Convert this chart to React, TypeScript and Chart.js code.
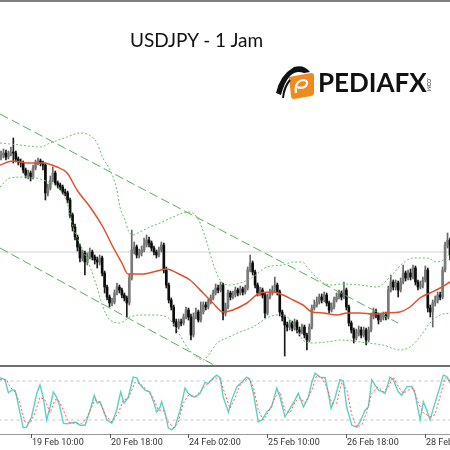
import React, { useEffect, useRef } from "react";
import { Chart, registerables } from "chart.js";

Chart.register(...registerables);

// ---------- DATA ----------
const firstOpen = 151.93;

const closes = [
  151.95, 151.97, 151.93, 151.96, 151.98, 151.97, 151.91, 151.88, 151.87, 151.80,
  151.75, 151.77, 151.73, 151.82, 151.87, 151.89, 151.87, 151.85, 151.57, 151.62,
  151.70, 151.77, 151.67, 151.65, 151.63, 151.58, 151.57, 151.50, 151.35, 151.23,
  151.13, 151.03, 150.92, 150.97, 150.88, 150.93, 150.98, 150.93, 150.90, 150.88,
  150.92, 150.77, 150.63, 150.53, 150.47, 150.48, 150.57, 150.63, 150.60, 150.55,
  150.52, 150.47, 150.72, 151.00, 151.03, 150.95, 150.97, 151.00, 151.05, 151.10,
  151.07, 151.02, 150.98, 150.95, 151.00, 151.05, 150.80, 150.65, 150.50, 150.43,
  150.28, 150.23, 150.28, 150.27, 150.33, 150.40, 150.33, 150.15, 150.33, 150.38,
  150.30, 150.38, 150.45, 150.43, 150.48, 150.52, 150.57, 150.62, 150.60, 150.65,
  150.37, 150.43, 150.57, 150.53, 150.55, 150.60, 150.57, 150.61, 150.58, 150.62,
  150.80, 150.87, 150.78, 150.65, 150.57, 150.60, 150.55, 150.37, 150.53, 150.57,
  150.60, 150.65, 150.58, 150.38, 150.33, 150.25, 150.23, 150.27, 150.22, 150.28,
  150.20, 150.18, 150.23, 150.15, 150.10, 150.23, 150.42, 150.45, 150.48, 150.53,
  150.50, 150.55, 150.47, 150.40, 150.43, 150.50, 150.53, 150.57, 150.53, 150.60,
  150.43, 150.27, 150.20, 150.12, 150.17, 150.20, 150.15, 150.20, 150.10, 150.20,
  150.33, 150.38, 150.35, 150.30, 150.33, 150.35, 150.33, 150.60, 150.68, 150.63,
  150.67, 150.60, 150.68, 150.77, 150.72, 150.77, 150.73, 150.82, 150.68, 150.63,
  150.65, 150.70, 150.80, 150.42, 150.38, 150.47, 150.50, 150.55, 150.53, 150.80,
  151.05, 151.10, 150.95,
];

const highs = [
  151.99, 152.01, 152.00, 151.99, 152.03, 152.12, 151.99, 151.93, 151.91, 151.89,
  151.82, 151.80, 151.79, 151.85, 151.90, 151.92, 151.91, 151.89, 151.87, 151.66,
  151.74, 151.83, 151.79, 151.69, 151.67, 151.65, 151.61, 151.59, 151.52, 151.37,
  151.26, 151.15, 151.06, 151.00, 150.99, 150.97, 151.02, 151.00, 150.95, 150.93,
  150.95, 150.94, 150.79, 150.65, 150.55, 150.52, 150.60, 150.67, 150.65, 150.62,
  150.57, 150.54, 150.76, 151.20, 151.08, 151.05, 151.01, 151.04, 151.12, 151.15,
  151.13, 151.09, 151.04, 151.00, 151.03, 151.08, 151.07, 150.83, 150.67, 150.52,
  150.45, 150.31, 150.31, 150.31, 150.36, 150.43, 150.42, 150.36, 150.37, 150.42,
  150.40, 150.48, 150.48, 150.48, 150.51, 150.55, 150.60, 150.66, 150.65, 150.68,
  150.67, 150.47, 150.60, 150.59, 150.59, 150.63, 150.62, 150.64, 150.63, 150.65,
  150.83, 150.95, 150.89, 150.80, 150.67, 150.63, 150.62, 150.57, 150.56, 150.61,
  150.64, 150.73, 150.67, 150.60, 150.40, 150.35, 150.28, 150.30, 150.29, 150.31,
  150.30, 150.23, 150.26, 150.25, 150.17, 150.26, 150.45, 150.50, 150.53, 150.56,
  150.56, 150.58, 150.57, 150.49, 150.47, 150.53, 150.57, 150.60, 150.59, 150.68,
  150.62, 150.45, 150.29, 150.22, 150.21, 150.24, 150.23, 150.23, 150.22, 150.23,
  150.37, 150.42, 150.41, 150.37, 150.37, 150.38, 150.38, 150.64, 150.75, 150.70,
  150.70, 150.69, 150.72, 150.85, 150.79, 150.80, 150.81, 150.85, 150.84, 150.70,
  150.69, 150.73, 150.84, 150.82, 150.45, 150.50, 150.54, 150.58, 150.58, 150.83,
  151.08, 151.17, 151.12,
];

const lows = [
  151.90, 151.92, 151.90, 151.91, 151.94, 151.87, 151.88, 151.85, 151.83, 151.77,
  151.72, 151.71, 151.69, 151.71, 151.80, 151.85, 151.84, 151.80, 151.50, 151.54,
  151.60, 151.68, 151.65, 151.62, 151.60, 151.56, 151.54, 151.47, 151.32, 151.19,
  151.10, 150.99, 150.88, 150.89, 150.75, 150.85, 150.91, 150.90, 150.86, 150.82,
  150.85, 150.74, 150.57, 150.50, 150.43, 150.44, 150.46, 150.55, 150.57, 150.52,
  150.49, 150.33, 150.45, 150.70, 150.96, 150.92, 150.92, 150.94, 150.98, 151.03,
  151.03, 150.99, 150.95, 150.92, 150.93, 150.98, 150.77, 150.62, 150.47, 150.40,
  150.24, 150.17, 150.21, 150.24, 150.25, 150.31, 150.30, 150.10, 150.13, 150.31,
  150.28, 150.28, 150.36, 150.40, 150.41, 150.46, 150.50, 150.55, 150.57, 150.58,
  150.30, 150.34, 150.41, 150.50, 150.51, 150.53, 150.54, 150.55, 150.55, 150.56,
  150.60, 150.78, 150.75, 150.62, 150.54, 150.54, 150.52, 150.32, 150.35, 150.51,
  150.55, 150.58, 150.55, 150.34, 150.29, 149.94, 150.19, 150.20, 150.19, 150.20,
  150.17, 150.14, 150.16, 150.12, 150.00, 150.08, 150.21, 150.40, 150.43, 150.46,
  150.47, 150.48, 150.44, 150.37, 150.38, 150.41, 150.48, 150.51, 150.50, 150.51,
  150.40, 150.24, 150.17, 150.07, 150.10, 150.14, 150.12, 150.13, 150.05, 150.08,
  150.18, 150.31, 150.32, 150.26, 150.28, 150.30, 150.30, 150.31, 150.58, 150.60,
  150.60, 150.53, 150.58, 150.66, 150.69, 150.70, 150.70, 150.71, 150.65, 150.60,
  150.61, 150.62, 150.68, 150.38, 150.33, 150.23, 150.44, 150.47, 150.50, 150.51,
  150.78, 151.02, 150.90,
];

// Moving average (middle line) sampled at bar positions
const maIdx = [-0.4, 4.9, 10.5, 17.0, 22.7, 26.8, 30.8, 36.1, 41.3, 45.4, 49.0, 51.5, 57.6, 63.2, 67.3, 71.3, 76.6, 81.9, 85.9, 90.0, 94.0, 99.7, 105.0, 110.3, 114.3, 118.4, 122.4, 126.1, 130.5, 136.2, 140.3, 145.5, 150.8, 156.5, 161.7, 165.8, 169.8, 173.9, 178.0, 182.0];
const maVal = [151.85, 151.89, 151.87, 151.87, 151.83, 151.77, 151.60, 151.43, 151.23, 151.03, 150.87, 150.76, 150.76, 150.79, 150.81, 150.77, 150.70, 150.57, 150.47, 150.38, 150.40, 150.47, 150.57, 150.58, 150.55, 150.50, 150.45, 150.38, 150.37, 150.35, 150.37, 150.37, 150.36, 150.37, 150.38, 150.43, 150.52, 150.57, 150.62, 150.68];

// Bollinger upper band
const bbUpIdx = [-0.4, 7.7, 15.8, 19.9, 26.8, 32.0, 34.9, 38.9, 41.3, 44.2, 47.0, 48.2, 50.3, 51.5, 53.5, 56.3, 60.4, 64.5, 69.7, 75.8, 77.8, 80.7, 83.5, 85.9, 88.8, 92.8, 98.1, 102.1, 107.8, 114.3, 118.4, 122.0, 124.4, 128.1, 133.4, 138.6, 145.5, 152.4, 157.7, 163.0, 167.0, 172.7, 176.7, 179.2, 182.0];
const bbUpVal = [152.07, 152.05, 152.03, 152.07, 152.13, 152.17, 152.16, 152.07, 151.92, 151.80, 151.60, 151.43, 151.30, 151.20, 151.15, 151.18, 151.23, 151.27, 151.33, 151.38, 151.37, 151.27, 151.07, 150.87, 150.70, 150.65, 150.68, 150.73, 150.83, 150.85, 150.88, 150.88, 150.82, 150.72, 150.65, 150.66, 150.65, 150.63, 150.73, 150.87, 150.92, 150.92, 150.88, 150.90, 150.97];

// Bollinger lower band
const bbLoIdx = [-0.4, 3.6, 10.5, 17.0, 23.9, 26.8, 29.2, 33.2, 36.1, 38.9, 41.3, 44.2, 48.2, 52.3, 56.3, 61.6, 67.3, 71.3, 75.4, 79.4, 81.9, 84.7, 87.6, 91.6, 96.9, 102.1, 107.8, 111.9, 115.9, 120.0, 122.4, 126.5, 132.1, 137.4, 142.7, 148.4, 154.8, 161.7, 165.8, 169.8, 173.9, 178.0, 182.0];
const bbLoVal = [151.63, 151.72, 151.73, 151.70, 151.60, 151.47, 151.23, 151.00, 150.83, 150.63, 150.43, 150.30, 150.27, 150.33, 150.35, 150.35, 150.33, 150.20, 150.03, 149.93, 149.90, 149.97, 150.07, 150.12, 150.18, 150.23, 150.32, 150.35, 150.33, 150.20, 150.10, 150.07, 150.08, 150.10, 150.09, 150.07, 150.05, 150.00, 150.03, 150.13, 150.27, 150.35, 150.37];

// Descending channel lines
const trendUpIdx = [-0.4, 160.9];
const trendUpVal = [152.36, 150.27];
const trendLoIdx = [-0.4, 90.0];
const trendLoVal = [151.02, 149.80];

// Horizontal price level
const levelPrice = 150.98;

// Stochastic %K
const kIdx = [-0.4, 1.6, 3.0, 4.3, 5.7, 6.4, 7.7, 9.0, 10.4, 12.4, 14.5, 15.8, 17.1, 18.5, 19.9, 21.2, 22.6, 23.9, 25.3, 26.6, 28.0, 30.0, 32.0, 34.1, 36.1, 37.8, 39.0, 40.1, 41.5, 42.9, 44.9, 46.9, 48.5, 49.9, 51.6, 53.6, 55.0, 56.4, 58.4, 60.4, 62.0, 63.1, 64.5, 65.1, 66.5, 67.8, 69.2, 70.5, 72.6, 74.6, 75.9, 77.3, 78.6, 80.7, 82.7, 84.0, 86.1, 87.4, 88.8, 90.1,
  92.2, 93.5, 95.6, 97.6, 99.6, 100.9, 102.3, 104.3, 105.7, 107.7, 109.7, 111.8, 113.1, 115.1, 117.2, 119.2, 120.5, 122.6, 124.6, 126.0, 127.3, 129.3, 131.4, 132.7, 133.8, 135.4, 137.4, 138.8, 140.1, 142.2, 144.2, 145.5, 147.6, 148.9, 150.3, 151.6, 153.0, 154.3, 155.7, 157.7, 159.0, 161.1, 162.4, 164.5, 166.5, 167.8, 169.9, 171.2, 172.6, 173.9, 175.9, 177.9, 179.3, 180.7, 182.0];
const kVal = [85, 82, 62, 66, 66, 55, 31, 8, 9, 25, 61, 74, 55, 20, 40, 63, 55, 40, 15, 14, 15, 17, 12, 12, 35, 58, 46, 48, 35, 20, 15, 35, 63, 46, 55, 86, 85, 74, 66, 63, 46, 32, 40, 48, 31, 8, 5, 9, 35, 69, 61, 57, 55, 61, 78, 76, 85, 89, 85, 55,
  32, 51, 71, 78, 86, 82, 61, 17, 20, 32, 40, 69, 55, 25, 38, 51, 61, 40, 55, 78, 92, 86, 85, 61, 38, 54, 82, 80, 40, 12, 9, 17, 35, 40, 82, 74, 66, 64, 61, 86, 82, 63, 58, 71, 72, 61, 20, 48, 35, 20, 46, 71, 89, 87, 77];

// Stochastic %D (signal)
const dIdx = [-0.4, 2.3, 3.6, 5.7, 7.7, 9.7, 11.8, 13.8, 15.8, 17.8, 19.9, 21.9, 23.2, 25.3, 27.3, 29.3, 32.7, 34.7, 38.1, 40.1, 42.2, 44.9, 47.6, 49.6, 51.6, 54.3, 56.4, 59.1, 61.7, 63.8, 65.8, 67.8, 69.9, 71.9, 73.9, 75.9, 78.6, 81.4, 84.0, 86.8, 88.8, 90.8,
  92.8, 94.9, 96.9, 100.3, 102.3, 104.3, 106.3, 108.4, 111.1, 113.1, 115.1, 117.2, 119.2, 121.2, 123.2, 126.0, 128.0, 130.0, 132.0, 134.1, 136.1, 138.1, 140.2, 142.2, 144.2, 146.2, 148.2, 150.3, 152.9, 155.0, 157.0, 159.0, 161.1, 163.1, 165.1, 167.2, 169.2, 171.2, 173.9, 175.9, 177.9, 180.0, 182.0];
const dVal = [82, 82, 71, 63, 46, 17, 15, 31, 55, 51, 31, 51, 51, 35, 17, 15, 15, 23, 51, 48, 28, 17, 31, 51, 53, 78, 76, 66, 54, 35, 35, 17, 8, 17, 46, 58, 56, 66, 77, 85, 83, 60,
  38, 54, 74, 85, 71, 35, 20, 32, 55, 63, 35, 31, 48, 54, 46, 66, 89, 85, 71, 46, 46, 78, 66, 28, 9, 12, 32, 61, 71, 63, 71, 86, 71, 61, 66, 69, 46, 31, 25, 28, 55, 85, 80];

const stochLevels = [80, 20];

const tickBars = [12, 44, 76, 108, 140, 172];
const tickLabels = ["19 Feb 10:00", "20 Feb 18:00", "24 Feb 02:00", "25 Feb 10:00", "26 Feb 18:00", "28 Feb 02:00"];

// ---------- HELPERS ----------
const X_MIN = -0.405;
const X_MAX = 182.0;

const pts = (xs: number[], ys: number[]) => xs.map((x, i) => ({ x, y: ys[i] }));

const lineDs = (data: any[], color: string, width: number, dash: number[], smooth: boolean, order = 1) => ({
  type: "line" as const,
  data,
  borderColor: color,
  borderWidth: width,
  borderDash: dash,
  pointRadius: 0,
  fill: false,
  tension: smooth ? 0.4 : 0,
  cubicInterpolationMode: smooth ? ("monotone" as const) : ("default" as const),
  order,
});

const xLabelPlugin = {
  id: "xlabels",
  afterDraw(chart: any) {
    const { ctx, chartArea } = chart;
    const xs = chart.scales.x;
    const b = chartArea.bottom;
    ctx.save();
    ctx.strokeStyle = "#9a9a9a";
    ctx.lineWidth = 1;
    ctx.beginPath();
    ctx.moveTo(0, b + 0.5);
    ctx.lineTo(chart.width, b + 0.5);
    ctx.stroke();
    ctx.strokeStyle = "#555";
    ctx.fillStyle = "#333";
    ctx.font = "9px Roboto, 'Liberation Sans', sans-serif";
    ctx.textAlign = "left";
    ctx.textBaseline = "alphabetic";
    tickBars.forEach((bar, k) => {
      const px = Math.round(xs.getPixelForValue(bar)) + 0.5;
      ctx.beginPath();
      ctx.moveTo(px, b);
      ctx.lineTo(px, b + 4);
      ctx.stroke();
      ctx.fillText(tickLabels[k], px + 0.5, b + 11);
    });
    ctx.restore();
  },
};

export default function App() {
  const mainRef = useRef<HTMLCanvasElement>(null);
  const stochRef = useRef<HTMLCanvasElement>(null);

  useEffect(() => {
    const opens = closes.map((c, i) => (i === 0 ? firstOpen : closes[i - 1]));
    const bull = closes.map((c, i) => c >= opens[i]);
    const wickData = closes.map((c, i) => ({
      x: i,
      y: [Math.min(lows[i], opens[i], c), Math.max(highs[i], opens[i], c)],
    }));
    const bodyData = closes.map((c, i) => {
      const o = opens[i];
      return { x: i, y: o === c ? [o - 0.004, c + 0.004] : [o, c] };
    });

    const main = new Chart(mainRef.current as HTMLCanvasElement, {
      type: "bar",
      data: {
        datasets: [
          lineDs(pts(maIdx, maVal), "#e4502c", 1.5, [], true, 1) as any,
          lineDs(pts(bbUpIdx, bbUpVal), "#66c066", 1, [2, 2], true, 2) as any,
          lineDs(pts(bbLoIdx, bbLoVal), "#66c066", 1, [2, 2], true, 2) as any,
          lineDs(pts(trendUpIdx, trendUpVal), "#55b055", 1, [9, 4], false, 3) as any,
          lineDs(pts(trendLoIdx, trendLoVal), "#55b055", 1, [9, 4], false, 3) as any,
          {
            type: "bar",
            data: bodyData,
            backgroundColor: bull.map((u) => (u ? "#7a7a7a" : "#0c0c0c")),
            borderWidth: 0,
            grouped: false,
            maxBarThickness: 2,
            barPercentage: 1,
            categoryPercentage: 1,
            order: 20,
          } as any,
          {
            type: "bar",
            data: wickData,
            backgroundColor: bull.map((u) => (u ? "#666666" : "#1a1a1a")),
            borderWidth: 0,
            grouped: false,
            maxBarThickness: 1,
            barPercentage: 1,
            categoryPercentage: 1,
            order: 21,
          } as any,
          lineDs([{ x: -1, y: levelPrice }, { x: 184, y: levelPrice }], "#d0d0d0", 1, [], false, 30) as any,
        ],
      },
      options: {
        animation: false,
        responsive: false,
        maintainAspectRatio: false,
        devicePixelRatio: 1,
        events: [],
        layout: { padding: 0 },
        plugins: { legend: { display: false }, tooltip: { enabled: false }, title: { display: false } },
        scales: {
          x: { type: "linear", min: X_MIN, max: X_MAX, display: false, offset: false, grid: { display: false } },
          y: { type: "linear", min: 149.85, max: 153.48, display: false, grid: { display: false } },
        },
      },
    });

    const stoch = new Chart(stochRef.current as HTMLCanvasElement, {
      type: "line",
      data: {
        datasets: [
          lineDs(pts(kIdx, kVal), "#5fcfc4", 1.4, [], false, 2) as any,
          lineDs(pts(dIdx, dVal), "#ff5c5c", 1, [2, 2], false, 1) as any,
          ...stochLevels.map((lv) => lineDs([{ x: -1, y: lv }, { x: 184, y: lv }], "#c4c4c4", 1, [3, 3], false, 10) as any),
        ],
      },
      options: {
        animation: false,
        responsive: false,
        maintainAspectRatio: false,
        devicePixelRatio: 1,
        events: [],
        layout: { padding: { top: 0, left: 0, right: 0, bottom: 16 } },
        plugins: { legend: { display: false }, tooltip: { enabled: false } },
        scales: {
          x: { type: "linear", min: X_MIN, max: X_MAX, display: false },
          y: { type: "linear", min: -1.54, max: 101.54, display: false },
        },
      },
      plugins: [xLabelPlugin],
    });

    return () => {
      main.destroy();
      stoch.destroy();
    };
  }, []);

  return (
    <div style={{ position: "absolute", left: 0, top: 0, width: 450, height: 450, background: "#ffffff", overflow: "hidden" }}>
      <canvas ref={mainRef} width={450} height={363} style={{ position: "absolute", left: 0, top: 2, width: 450, height: 363 }} />
      <canvas ref={stochRef} width={450} height={83} style={{ position: "absolute", left: 0, top: 367, width: 450, height: 83 }} />
      <div style={{ position: "absolute", left: 0, top: 0, width: 450, height: 2, background: "#808080" }} />
      <div style={{ position: "absolute", left: 0, top: 365, width: 450, height: 2, background: "#6e6e6e" }} />
      <div
        style={{
          position: "absolute",
          left: 130,
          top: 30,
          fontFamily: "'Comic Sans MS', Lato, sans-serif",
          fontSize: 19,
          lineHeight: "19px",
          color: "#111",
          whiteSpace: "nowrap",
        }}
      >
        USDJPY - 1 Jam
      </div>
      <svg style={{ position: "absolute", left: 274, top: 63 }} width={42} height={38} viewBox="0 0 42 38">
        <path d="M15,14 L37,10 Q40,10 40,13 L40,29 Q40,32 37,33 L20,36 Q17,36 17,33 Z" fill="#f18a1e" />
        <path d="M22,30 Q20,18 30,17 Q35,18 32,23 Q28,26 23,24" stroke="#ffffff" strokeWidth={2.2} fill="none" />
        <path d="M2,30 Q6,12 20,4 Q30,1 36,9 L30,10 Q22,7 16,13 Q10,20 7,32 Z" fill="#111111" />
        <path d="M9,35 Q10,24 16,17" stroke="#111111" strokeWidth={2} fill="none" />
      </svg>
      <div
        style={{
          position: "absolute",
          left: 318,
          top: 69,
          fontFamily: "Lato, 'Open Sans', sans-serif",
          fontWeight: 700,
          fontSize: 26,
          lineHeight: "26px",
          color: "#111",
          whiteSpace: "nowrap",
        }}
      >
        PEDIAFX
      </div>
      <div
        style={{
          position: "absolute",
          left: 426,
          top: 78,
          fontFamily: "Lato, sans-serif",
          fontSize: 5,
          lineHeight: "6px",
          color: "#222",
          writingMode: "vertical-rl",
          whiteSpace: "nowrap",
        }}
      >
        .COM
      </div>
    </div>
  );
}
